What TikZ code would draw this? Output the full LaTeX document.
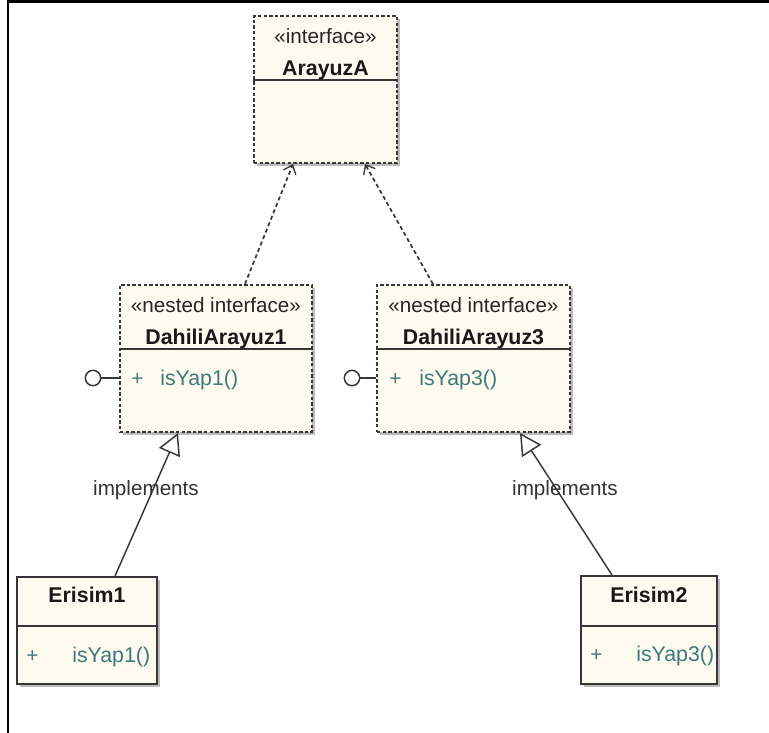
\documentclass[tikz,border=0pt]{standalone}
\usepackage{fontspec}
\setmainfont{Liberation Sans}
\usetikzlibrary{arrows.meta,shadows,calc}

\definecolor{umlfill}{RGB}{253,250,240}
\definecolor{umlline}{RGB}{55,55,55}
\definecolor{umlop}{RGB}{62,122,120}

\tikzset{
  umlbox/.style={rectangle, draw=umlline, fill=umlfill, line width=1.5pt, inner sep=0pt,
    drop shadow={shadow xshift=2.2pt, shadow yshift=-2.2pt, fill=black!45, opacity=.6}},
  ifacebox/.style={umlbox, dash pattern=on 2.6pt off 1.6pt},
  sepline/.style={draw=umlline, line width=1.5pt},
  stereo/.style={anchor=base, inner sep=0pt, font=\fontsize{15.5}{18}\selectfont, text=black!85},
  clsname/.style={anchor=base, inner sep=0pt, font=\fontsize{16}{18}\selectfont\bfseries, text=black!90},
  opsign/.style={anchor=base west, inner sep=0pt, font=\fontsize{15.5}{18}\selectfont, text=umlop},
  opname/.style={anchor=base west, inner sep=0pt, font=\fontsize{16}{18}\selectfont, text=umlop},
  lolli/.style={circle, draw=umlline, fill=white, line width=1.1pt, minimum size=11.5pt, inner sep=0pt},
  realize/.style={draw=umlline, line width=1.3pt, dash pattern=on 3pt off 2.2pt,
    -{Straight Barb[length=6pt,width=10pt,line width=1pt]}},
  implarrow/.style={draw=umlline, line width=1.1pt, -{Triangle[length=16pt,width=17pt,open,line width=1.1pt]}},
  lbl/.style={anchor=base, inner sep=0pt, font=\fontsize{15.5}{18}\selectfont, text=black!80}
}

\begin{document}
\begin{tikzpicture}[x=0.75pt,y=-0.75pt]
\useasboundingbox (0,0) rectangle (769,733);
\draw[line width=1.6pt] (8,733) -- (8,1.5) -- (769,1.5);

% interface
\node[ifacebox, minimum width=107.25pt, minimum height=110.25pt] (ArayuzA) at (325.5,89.5) {};
\draw[sepline] ($(ArayuzA.north west)+(0,65)$) -- ($(ArayuzA.north east)+(0,65)$);
\node[stereo] (ArayuzA-st) at (325.5,43) {«interface»};
\node[clsname] (ArayuzA-nm) at (325.5,75) {ArayuzA};

% nested interfaces
\node[ifacebox, minimum width=144pt, minimum height=110.25pt] (Dahili1) at (216,358.5) {};
\draw[sepline] ($(Dahili1.north west)+(0,65)$) -- ($(Dahili1.north east)+(0,65)$);
\node[stereo] (Dahili1-st) at (216,312) {«nested interface»};
\node[clsname] (Dahili1-nm) at (216,344) {DahiliArayuz1};
\node[opsign] (Dahili1-pl) at (131,385) {+};
\node[opname] (Dahili1-op) at (160,385) {isYap1()};
\node[lolli] (Dahili1-lol) at (93,378) {};
\draw[umlline, line width=1.1pt] (Dahili1-lol) -- (Dahili1-lol -| Dahili1.west);

\node[ifacebox, minimum width=144.75pt, minimum height=110.25pt] (Dahili3) at (473.5,358.5) {};
\draw[sepline] ($(Dahili3.north west)+(0,65)$) -- ($(Dahili3.north east)+(0,65)$);
\node[stereo] (Dahili3-st) at (473.5,312) {«nested interface»};
\node[clsname] (Dahili3-nm) at (473.5,344) {DahiliArayuz3};
\node[opsign] (Dahili3-pl) at (389,385) {+};
\node[opname] (Dahili3-op) at (419,385) {isYap3()};
\node[lolli] (Dahili3-lol) at (352,378) {};
\draw[umlline, line width=1.1pt] (Dahili3-lol) -- (Dahili3-lol -| Dahili3.west);

% classes
\node[umlbox, minimum width=105pt, minimum height=80.25pt] (Erisim1) at (87,630.5) {};
\draw[sepline] ($(Erisim1.north west)+(0,50)$) -- ($(Erisim1.north east)+(0,50)$);
\node[clsname] (Erisim1-nm) at (87,602) {Erisim1};
\node[opsign] (Erisim1-pl) at (26,662) {+};
\node[opname] (Erisim1-op) at (72,662) {isYap1()};

\node[umlbox, minimum width=102pt, minimum height=81pt] (Erisim2) at (649,630) {};
\draw[sepline] ($(Erisim2.north west)+(0,51)$) -- ($(Erisim2.north east)+(0,51)$);
\node[clsname] (Erisim2-nm) at (649,602) {Erisim2};
\node[opsign] (Erisim2-pl) at (590,661) {+};
\node[opname] (Erisim2-op) at (636,661) {isYap3()};

% connectors
\draw[realize] ($(Dahili1.north)+(29,0)$) -- ($(ArayuzA.south)+(-32.5,0)$);
\draw[realize] ($(Dahili3.north)+(-40.5,0)$) -- ($(ArayuzA.south)+(39.5,0)$);
\draw[implarrow] ($(Erisim1.north)+(28,0)$) -- ($(Dahili1.south)+(-38,0)$);
\draw[implarrow] ($(Erisim2.north)+(-37,0)$) -- ($(Dahili3.south)+(46.5,0)$);
\node[lbl] (impl1) at (146,495) {implements};
\node[lbl] (impl2) at (565,495) {implements};
\end{tikzpicture}
\end{document}
